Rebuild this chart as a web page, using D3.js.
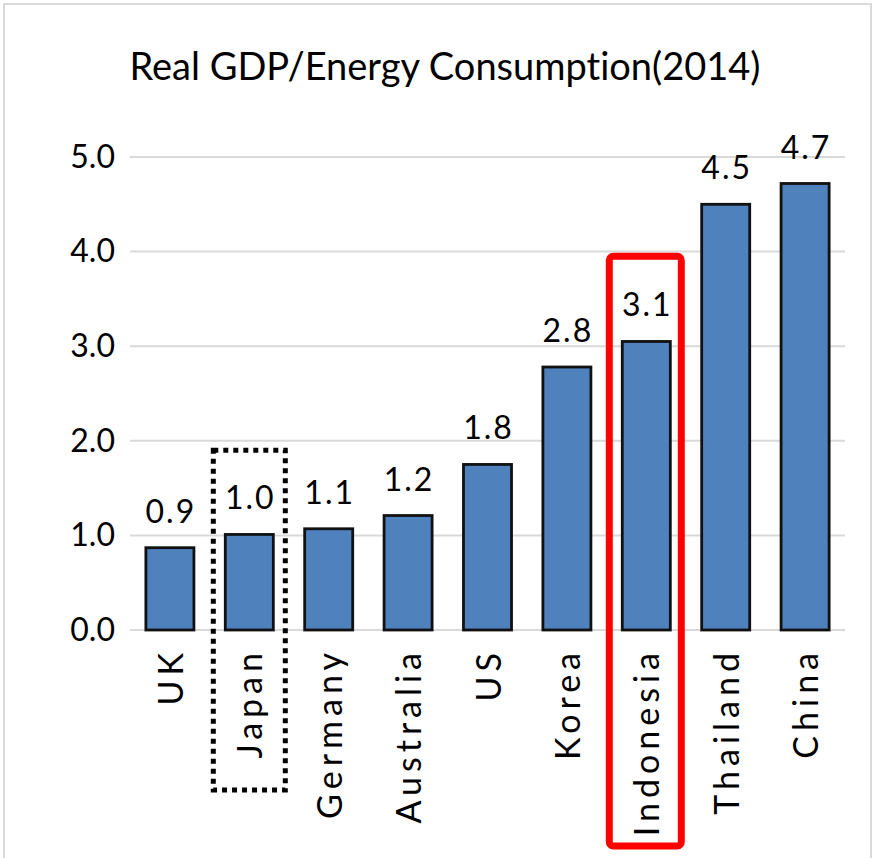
<!DOCTYPE html>
<html>
<head>
<meta charset="utf-8">
<script src="https://cdn.jsdelivr.net/npm/d3@7/dist/d3.min.js"></script>
<style>
  body { margin:0; background:#fff; }
  text { font-family: Lato, "Open Sans", sans-serif; fill:#000; font-variant-ligatures:none; }
</style>
</head>
<body>
<svg id="chart"></svg>
<script>
var countries = ["UK","Japan","Germany","Australia","US","Korea","Indonesia","Thailand","China"]
var ratios = [0.87,1.01,1.07,1.21,1.75,2.78,3.05,4.50,4.72]
var ratioLabels = ["0.9","1.0","1.1","1.2","1.8","2.8","3.1","4.5","4.7"]
var yTicks = [0,1,2,3,4,5]

var screen = {width:875, height:858}
var margins = {top:157, bottom:228, left:130, right:30}

var graph =
    {
        width:screen.width-margins.left-margins.right,
        height:screen.height-margins.top-margins.bottom
    }

var svg = d3.select("#chart")
    .attr("width",screen.width)
    .attr("height",screen.height)

//light frame round the chart area
svg.append("rect")
    .attr("x",4).attr("y",4)
    .attr("width",screen.width-8)
    .attr("height",screen.height)
    .attr("fill","none")
    .attr("stroke","#d9d9d9")
    .attr("stroke-width",2)

var xScale = d3.scaleBand()
    .domain(countries)
    .range([0,graph.width])
    .paddingInner(0.395)
    .paddingOuter(0.2)

var yScale = d3.scaleLinear()
    .domain([0,5])
    .range([graph.height,0])

var g = svg.append("g")
    .attr("transform","translate("+margins.left+","+margins.top+")")

//gridlines
g.selectAll("line.grid")
    .data(yTicks)
    .enter()
    .append("line")
    .attr("x1",0)
    .attr("x2",graph.width)
    .attr("y1",function(d){return yScale(d)})
    .attr("y2",function(d){return yScale(d)})
    .attr("stroke","#d9d9d9")
    .attr("stroke-width",2)

//y axis labels
var yAxis = d3.axisLeft(yScale)
    .tickValues(yTicks)
    .tickFormat(d3.format(".1f"))
    .tickSize(0)
    .tickPadding(15)

g.append("g")
    .call(yAxis)
    .call(function(a){a.select(".domain").remove()})
    .selectAll("text")
    .style("font-size","32px")
    .style("font-family","Lato, 'Open Sans', sans-serif")
    .attr("fill","#000")

//bars
g.selectAll("rect.bar")
    .data(ratios)
    .enter()
    .append("rect")
    .attr("x",function(d,i){return xScale(countries[i])})
    .attr("y",function(d){return yScale(d)})
    .attr("width",xScale.bandwidth())
    .attr("height",function(d){return graph.height-yScale(d)})
    .attr("fill","#4f81bd")
    .attr("stroke","#111")
    .attr("stroke-width",2.8)

//value labels
g.selectAll("text.val")
    .data(ratios)
    .enter()
    .append("text")
    .attr("x",function(d,i){return xScale(countries[i])+xScale.bandwidth()/2+1})
    .attr("y",function(d){return yScale(d)-25})
    .attr("text-anchor","middle")
    .style("font-size","32px")
    .style("letter-spacing","2px")
    .text(function(d,i){return ratioLabels[i]})

//category labels, rotated
g.selectAll("text.cat")
    .data(countries)
    .enter()
    .append("text")
    .attr("transform",function(d)
        {return "translate("+(xScale(d)+xScale.bandwidth()/2+13)+","+(graph.height+18)+") rotate(-90)"})
    .attr("text-anchor","end")
    .style("font-size","34px")
    .style("letter-spacing","5px")
    .text(function(d){return d})

//title
svg.append("text")
    .attr("x",445)
    .attr("y",80)
    .attr("text-anchor","middle")
    .style("font-size","38px")
    .text("Real GDP/Energy Consumption(2014)")

//dotted box round Japan
var jx = xScale("Japan")+xScale.bandwidth()/2
g.append("rect")
    .attr("x",jx-36)
    .attr("y",yScale(1.9))
    .attr("width",72)
    .attr("height",graph.height-yScale(1.9)+160)
    .attr("fill","none")
    .attr("stroke","#000")
    .attr("stroke-width",5)
    .attr("stroke-dasharray","5,5")

//red box round Indonesia
var ix = xScale("Indonesia")+xScale.bandwidth()/2
g.append("rect")
    .attr("x",ix-37)
    .attr("y",yScale(3.95))
    .attr("width",72)
    .attr("height",graph.height-yScale(3.95)+216)
    .attr("rx",4)
    .attr("fill","none")
    .attr("stroke","#ff0000")
    .attr("stroke-width",7)
</script>
</body>
</html>
